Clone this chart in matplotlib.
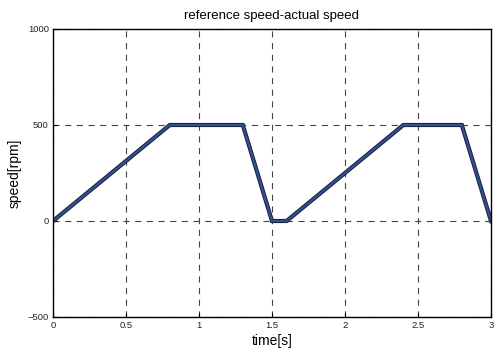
import matplotlib.pyplot as plt

# breakpoints of the speed profile
t = [0, 0.8, 1.3, 1.5, 1.6, 2.4, 2.8, 3.0]
ref_speed = [0, 500, 500, 0, 0, 500, 500, 0]
act_speed = [0, 500, 500, 0, 0, 500, 500, 0]

xticks = [0, 0.5, 1, 1.5, 2, 2.5, 3]
xticklabels = ['0', '0.5', '1', '1.5', '2', '2.5', '3']
yticks = [-500, 0, 500, 1000]

plt.rcParams['font.family'] = ['Liberation Sans', 'DejaVu Sans']

fig = plt.figure(figsize=(4.95, 3.51), dpi=100)
ax = fig.add_axes([53/495, 1 - 317/351, 438/495, 288/351])

ax.plot(t, ref_speed, color='#1a1a2a', lw=3.0, solid_joinstyle='miter')
ax.plot(t, act_speed, color='#2f5097', lw=1.7, solid_joinstyle='miter')

ax.set_xlim(0, 3)
ax.set_ylim(-500, 1000)
ax.set_xticks(xticks)
ax.set_xticklabels(xticklabels)
ax.set_yticks(yticks)
ax.tick_params(direction='in', length=3, labelsize=6.8, pad=3, labelcolor='#222222')
ax.grid(True, color='#444444', linestyle=(0, (5.5, 5)), lw=0.8)
for s in ax.spines.values():
    s.set_linewidth(1.0)

ax.set_title('reference speed-actual speed', fontsize=9.5, pad=7)
ax.set_xlabel('time[s]', fontsize=10, labelpad=3)
ax.set_ylabel('speed[rpm]', fontsize=10, labelpad=4)

fig.savefig('out.png', dpi=100)
